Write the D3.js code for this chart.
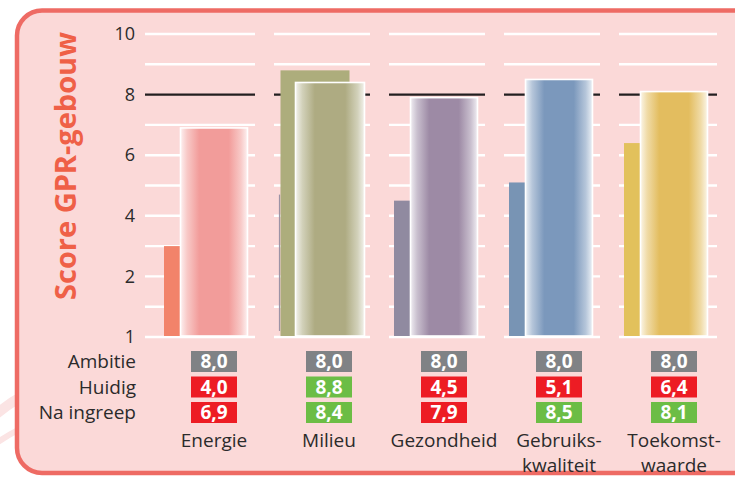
<!DOCTYPE html>
<html>
<head>
<meta charset="utf-8">
<script src="https://cdn.jsdelivr.net/npm/d3@7/dist/d3.min.js"></script>
<style>
  body { margin: 0; background: #fff; }
  svg { display: block; font-family: "Open Sans", sans-serif; }
</style>
</head>
<body>
<svg id="chart"></svg>
<script>
// Data
var categories = ["Energie", "Milieu", "Gezondheid", "Gebruiks-\nkwaliteit", "Toekomst-\nwaarde"];
var ambitie = [8.0, 8.0, 8.0, 8.0, 8.0];
var huidig = [4.0, 8.8, 4.5, 5.1, 6.4];
var naIngreep = [6.9, 8.4, 7.9, 8.5, 8.1];
// the Energie "Huidig" bar is drawn at 3 in the original, not at its printed 4,0
var huidigBar = [3.0, 8.8, 4.5, 5.1, 6.4];
var yTicks = [0, 2, 4, 6, 8, 10];
var yTickLabels = ["1", "2", "4", "6", "8", "10"];
var rowLabels = ["Ambitie", "Huidig", "Na ingreep"];
var huidigColors = ["#f2836a", "#adad7c", "#908aa0", "#7894b4", "#e2c15c"];
var naColors = ["#f29c9a", "#aeab82", "#9d8aa5", "#7b98bc", "#e3bd5f"];

var W = 735, H = 478;
var svg = d3.select("#chart").attr("width", W).attr("height", H);

// Faint swooshes outside the frame, bottom left
var sw = svg.append("g").attr("fill", "none").attr("stroke", "#fbe4e4");
sw.append("path").attr("d", "M-10,420 Q10,400 40,388").attr("stroke-width", 10);
sw.append("path").attr("d", "M-10,448 Q10,432 40,420").attr("stroke-width", 6);

// Frame
svg.append("rect")
  .attr("x", 17).attr("y", 10.5)
  .attr("width", 800).attr("height", 462.5)
  .attr("rx", 25).attr("ry", 25)
  .attr("fill", "#fbd9d8")
  .attr("stroke", "#ee6b64")
  .attr("stroke-width", 4.5);

// Scales
var y = d3.scaleLinear().domain([0, 10]).range([337, 34]);
var x = d3.scaleBand().domain(categories).range([164, 164 + 115 * categories.length]);

var data = categories.map(function(c, i) {
  return { cat: c, i: i, amb: ambitie[i], hui: huidig[i], huiBar: huidigBar[i], na: naIngreep[i] };
});

// Gradients for the "Na ingreep" bars
var defs = svg.append("defs");
data.forEach(function(d) {
  var c = naColors[d.i];
  var light = d3.interpolateRgb(c, "#ffffff");
  var g = defs.append("linearGradient").attr("id", "grad" + d.i)
    .attr("x1", "0").attr("x2", "1").attr("y1", "0").attr("y2", "0");
  [[0, light(0.85)], [0.1, light(0.45)], [0.28, c], [0.72, c], [0.9, light(0.45)], [1, light(0.85)]]
    .forEach(function(s) {
      g.append("stop").attr("offset", s[0]).attr("stop-color", s[1]);
    });
});

// Gridlines per group
var gridVals = d3.range(0, 11);
var grid = svg.append("g");
data.forEach(function(d) {
  var x0 = d.i === 0 ? 145 : x(d.cat) - 5;
  var x1 = x(d.cat) + 91 + (d.i === 4 ? 2 : 0);
  grid.selectAll(null)
    .data(gridVals)
    .enter()
    .append("line")
    .attr("x1", x0).attr("x2", x1)
    .attr("y1", function(v) { return y(v); })
    .attr("y2", function(v) { return y(v); })
    .attr("stroke", function(v) { return v === d.amb ? "#231f20" : "#ffffff"; })
    .attr("stroke-width", function(v) { return v === d.amb ? 2.2 : 2.4; });
});

// Huidig bars (Milieu's is drawn wide, behind the other bar)
svg.append("g").selectAll("rect")
  .data(data)
  .enter()
  .append("rect")
  .attr("x", function(d) { return x(d.cat) + (d.i === 1 ? 1.5 : 0); })
  .attr("width", function(d) { return d.i === 1 ? 69 : 16; })
  .attr("y", function(d) { return y(d.huiBar); })
  .attr("height", function(d) { return y(0) - 1 - y(d.huiBar); })
  .attr("fill", function(d) { return huidigColors[d.i]; });

// thin leftover line in the Milieu group
svg.append("line")
  .attr("x1", x(categories[1]) + 0.5).attr("x2", x(categories[1]) + 0.5)
  .attr("y1", y(4.7)).attr("y2", y(0.2))
  .attr("stroke", "#9c93a6").attr("stroke-width", 1.2);

// Na ingreep bars
svg.append("g").selectAll("rect")
  .data(data)
  .enter()
  .append("rect")
  .attr("x", function(d) { return x(d.cat) + 16.5; })
  .attr("width", function(d) { return d.i === 1 ? 69 : 67; })
  .attr("y", function(d) { return y(d.na); })
  .attr("height", function(d) { return y(0) - 1 - y(d.na); })
  .attr("fill", function(d) { return "url(#grad" + d.i + ")"; })
  .attr("stroke", "#ffffff")
  .attr("stroke-width", 1.6);

// Y axis
var yAxis = svg.append("g")
  .attr("transform", "translate(135,0)")
  .call(d3.axisLeft(y).tickValues(yTicks)
    .tickFormat(function(d, i) { return yTickLabels[i]; })
    .tickSize(0).tickPadding(0));
yAxis.select(".domain").remove();
yAxis.selectAll("text")
  .attr("fill", "#2b2b2b")
  .style("font-size", "18px")
  .style("font-family", "'Open Sans', sans-serif");

// Y title
svg.append("text")
  .attr("transform", "translate(76,166) rotate(-90)")
  .attr("text-anchor", "middle")
  .attr("fill", "#ef6047")
  .style("font-size", "28px")
  .style("font-weight", "bold")
  .attr("textLength", 268)
  .attr("lengthAdjust", "spacingAndGlyphs")
  .text("Score GPR-gebouw");

// Table
var rowY = [361.5, 387, 412.5];
svg.append("g").selectAll("text")
  .data(rowLabels)
  .enter()
  .append("text")
  .attr("x", 136)
  .attr("y", function(d, i) { return rowY[i]; })
  .attr("dy", "0.35em")
  .attr("text-anchor", "end")
  .attr("fill", "#2b2b2b")
  .style("font-size", "19px")
  .text(function(d) { return d; });

var cells = [];
data.forEach(function(d) {
  [d.amb, d.hui, d.na].forEach(function(v, r) {
    var col = r === 0 ? "#808285" : (v >= d.amb ? "#6cbd45" : "#ed1c24");
    cells.push({ cx: x(d.cat) + 50, cy: rowY[r], v: v, col: col });
  });
});

var cell = svg.append("g").selectAll("g")
  .data(cells)
  .enter()
  .append("g");
cell.append("rect")
  .attr("x", function(d) { return d.cx - 23; })
  .attr("y", function(d) { return d.cy - 10.5; })
  .attr("width", 46).attr("height", 21)
  .attr("fill", function(d) { return d.col; });
cell.append("text")
  .attr("x", function(d) { return d.cx; })
  .attr("y", function(d) { return d.cy; })
  .attr("dy", "0.36em")
  .attr("text-anchor", "middle")
  .attr("fill", "#ffffff")
  .style("font-size", "19px")
  .style("font-weight", "bold")
  .text(function(d) { return d.v.toFixed(1).replace(".", ","); });

// Category labels
var catText = svg.append("g").selectAll("text")
  .data(data)
  .enter()
  .append("text")
  .attr("text-anchor", "middle")
  .attr("fill", "#2b2b2b")
  .style("font-size", "19px");
catText.selectAll("tspan")
  .data(function(d) {
    return d.cat.split("\n").map(function(t) { return { t: t, cx: x(d.cat) + 50 }; });
  })
  .enter()
  .append("tspan")
  .attr("x", function(d) { return d.cx; })
  .attr("y", function(d, i) { return 447 + i * 25; })
  .text(function(d) { return d.t; });
</script>
</body>
</html>
